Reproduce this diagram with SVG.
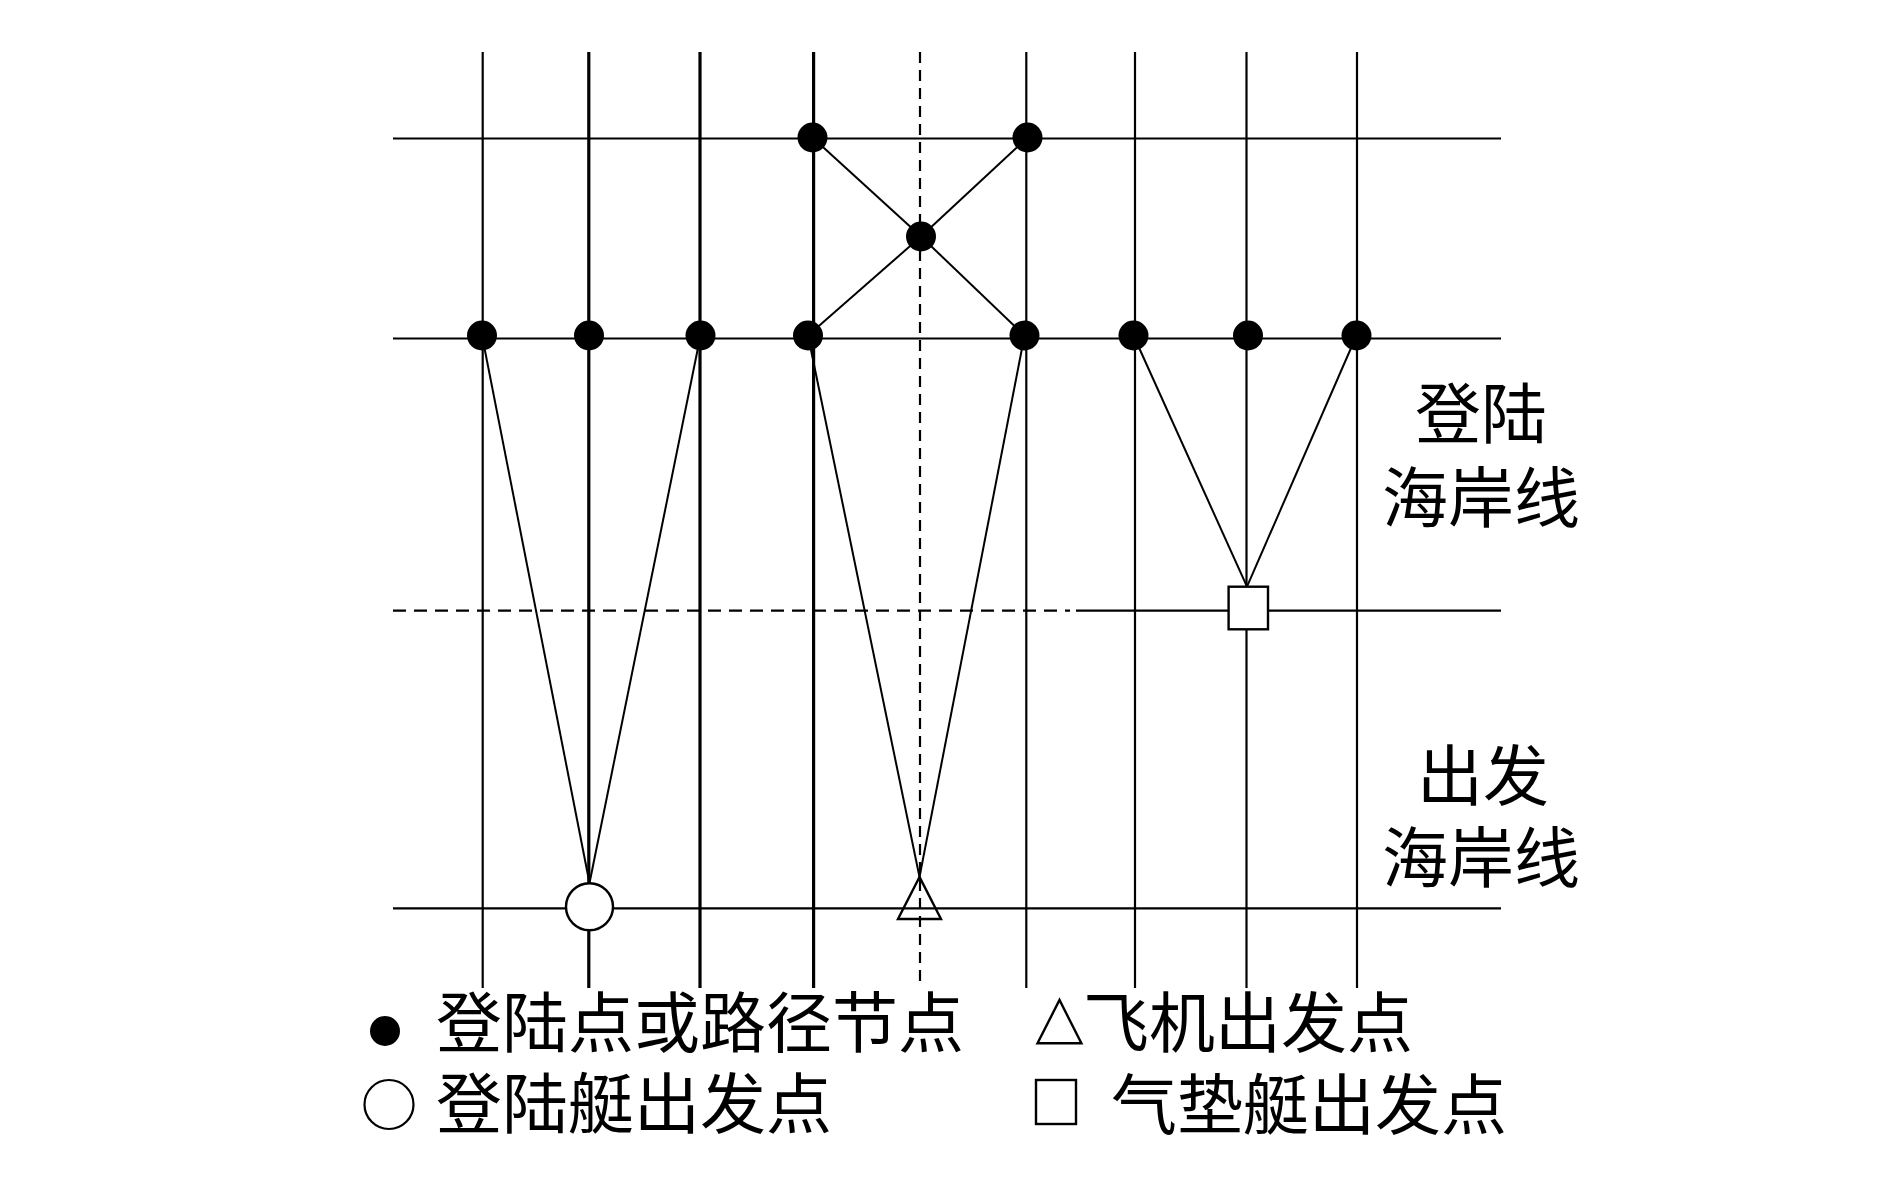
<svg xmlns="http://www.w3.org/2000/svg" width="1890" height="1181" viewBox="0 0 1890 1181">
<style>
  .g{stroke:#000;stroke-width:2.2;fill:none}
  .gt{stroke:#000;stroke-width:3.2;fill:none}
  .dv{stroke:#000;stroke-width:2.2;fill:none;stroke-dasharray:11 7}
  .dh{stroke:#000;stroke-width:2.2;fill:none;stroke-dasharray:13 8}
  .e{stroke:#000;stroke-width:2;fill:none}
  .dot{fill:#000}
  .open{fill:#fff;stroke:#000;stroke-width:2.4}
  .t{font-family:"Noto Sans CJK SC","Noto Sans CJK JP",sans-serif;font-size:66px;fill:#000}
</style>
<rect width="1890" height="1181" fill="#fff"/>
<g id="grid">
  <line class="g" x1="393" y1="138.5" x2="1501" y2="138.5"/>
  <line class="g" x1="393" y1="338.5" x2="1501" y2="338.5"/>
  <line class="dh" x1="393" y1="610.7" x2="1070" y2="610.7"/>
  <line class="g" x1="1076" y1="610.7" x2="1501" y2="610.7"/>
  <line class="g" x1="393" y1="908.3" x2="1501" y2="908.3"/>
  <line class="g" x1="482.7" y1="52" x2="482.7" y2="988"/>
  <line class="gt" x1="588.8" y1="52" x2="588.8" y2="988"/>
  <line class="gt" x1="700" y1="52" x2="700" y2="988"/>
  <line class="gt" x1="813.6" y1="52" x2="813.6" y2="988"/>
  <line class="dv" x1="920" y1="52" x2="920" y2="988"/>
  <line class="g" x1="1026.3" y1="52" x2="1026.3" y2="988"/>
  <line class="g" x1="1135" y1="52" x2="1135" y2="988"/>
  <line class="g" x1="1246.5" y1="52" x2="1246.5" y2="988"/>
  <line class="g" x1="1357" y1="52" x2="1357" y2="988"/>
</g>
<g id="connectors">
  <line class="e" x1="812.5" y1="137.5" x2="921" y2="236.5"/>
  <line class="e" x1="1027.5" y1="137.5" x2="921" y2="236.5"/>
  <line class="e" x1="921" y1="236.5" x2="808" y2="335.5"/>
  <line class="e" x1="921" y1="236.5" x2="1024.5" y2="335.5"/>
  <line class="e" x1="482" y1="335.5" x2="589.5" y2="883"/>
  <line class="e" x1="700.5" y1="335.5" x2="589.5" y2="883"/>
  <line class="e" x1="808" y1="335.5" x2="919.5" y2="877"/>
  <line class="e" x1="1024.5" y1="335.5" x2="919.5" y2="877"/>
  <line class="e" x1="1133.5" y1="335.5" x2="1247" y2="586.7"/>
  <line class="e" x1="1356.5" y1="335.5" x2="1247" y2="586.7"/>
</g>
<g id="n_top1"><circle class="dot" cx="812.5" cy="137.5" r="15"/></g>
<g id="n_top2"><circle class="dot" cx="1027.5" cy="137.5" r="15"/></g>
<g id="n_mid"><circle class="dot" cx="921" cy="236.5" r="15"/></g>
<g id="n_l1"><circle class="dot" cx="482" cy="335.5" r="15"/></g>
<g id="n_l2"><circle class="dot" cx="589" cy="335.5" r="15"/></g>
<g id="n_l3"><circle class="dot" cx="700.5" cy="335.5" r="15"/></g>
<g id="n_l4"><circle class="dot" cx="808" cy="335.5" r="15"/></g>
<g id="n_l5"><circle class="dot" cx="1024.5" cy="335.5" r="15"/></g>
<g id="n_l6"><circle class="dot" cx="1133.5" cy="335.5" r="15"/></g>
<g id="n_l7"><circle class="dot" cx="1248" cy="335.5" r="15"/></g>
<g id="n_l8"><circle class="dot" cx="1356.5" cy="335.5" r="15"/></g>
<g id="n_boat"><circle class="open" cx="589.5" cy="906.7" r="23.5"/></g>
<g id="n_plane"><polygon class="e" style="stroke-width:2.4" points="919.5,877 898,919 941,919"/></g>
<g id="n_hover"><rect class="open" x="1228.6" y="586.7" width="39.4" height="42.6"/></g>
<g id="labels">
  <text class="t" x="1481" y="438" text-anchor="middle">登陆</text>
  <text class="t" x="1481" y="522" text-anchor="middle">海岸线</text>
  <text class="t" x="1483" y="800" text-anchor="middle">出发</text>
  <text class="t" x="1481" y="882" text-anchor="middle">海岸线</text>
</g>
<g id="legend">
  <circle class="dot" cx="385" cy="1031" r="15"/>
  <text class="t" x="436" y="1047">登陆点或路径节点</text>
  <circle fill="#fff" stroke="#000" stroke-width="2.2" cx="389" cy="1104.5" r="24.5"/>
  <text class="t" x="436" y="1128">登陆艇出发点</text>
  <polygon fill="none" stroke="#000" stroke-width="2.4" points="1037.5,1043.3 1081.4,1043.3 1059.5,1000"/>
  <text class="t" x="1083" y="1047">飞机出发点</text>
  <rect fill="none" stroke="#000" stroke-width="2.4" x="1036" y="1080" width="40" height="44"/>
  <text class="t" x="1111" y="1129">气垫艇出发点</text>
</g>
</svg>
